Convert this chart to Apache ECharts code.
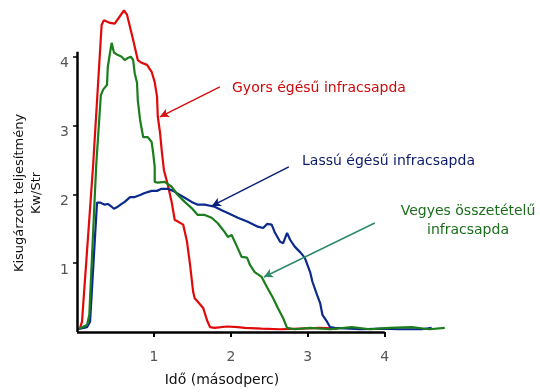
<!DOCTYPE html>
<html>
<head>
<meta charset="utf-8">
<script src="https://cdn.jsdelivr.net/npm/echarts@6/dist/echarts.min.js"></script>
<style>html,body{margin:0;padding:0;background:#fff}#c{width:540px;height:392px}</style>
</head>
<body>
<div id="c"></div>
<script>
// ---- data (time in seconds, radiated power Kw/Str) ----
const gyorsX = [0.04,0.065,0.09,0.21,0.32,0.35,0.43,0.49,0.61,0.65,0.73,0.79,0.84,0.91,0.97,1.01,1.04,1.05,1.08,1.10,1.13,1.18,1.23,1.27,1.38,1.43,1.47,1.51,1.53,1.57,1.64,1.69,1.73,1.79,1.95,2.09,2.18,2.40,2.64,2.90,3.16,3.39];
const gyorsY = [0.06,0.15,0.17,2.43,4.46,4.53,4.49,4.48,4.67,4.61,4.24,3.95,3.91,3.88,3.78,3.63,3.42,3.13,2.89,2.65,2.35,2.14,1.89,1.63,1.56,1.31,0.97,0.58,0.49,0.44,0.35,0.17,0.07,0.06,0.08,0.07,0.06,0.05,0.04,0.05,0.06,0.05];

const lassuX = [0.01,0.13,0.17,0.26,0.30,0.36,0.40,0.45,0.48,0.53,0.58,0.62,0.69,0.75,0.82,0.88,0.97,1.04,1.10,1.18,1.25,1.31,1.40,1.49,1.57,1.66,1.79,1.88,1.96,2.09,2.22,2.35,2.42,2.47,2.53,2.57,2.64,2.68,2.73,2.77,2.83,2.90,2.96,3.03,3.06,3.12,3.16,3.19,3.25,3.29,3.35,3.68,3.95,4.19,4.48,4.61];
const lassuY = [0.04,0.07,0.15,1.88,1.88,1.85,1.86,1.82,1.79,1.82,1.86,1.89,1.96,1.96,1.99,2.02,2.05,2.05,2.08,2.08,2.05,2.01,1.95,1.89,1.85,1.85,1.82,1.77,1.73,1.66,1.60,1.53,1.51,1.57,1.56,1.45,1.31,1.29,1.44,1.34,1.24,1.16,1.08,0.87,0.73,0.54,0.42,0.25,0.15,0.07,0.06,0.04,0.05,0.04,0.04,0.06];

const vegyesX = [0.01,0.13,0.16,0.25,0.31,0.34,0.39,0.40,0.43,0.45,0.48,0.52,0.58,0.62,0.66,0.70,0.73,0.75,0.78,0.79,0.82,0.86,0.88,0.92,0.97,0.99,1.01,1.01,1.05,1.14,1.23,1.31,1.40,1.49,1.57,1.66,1.75,1.83,1.92,1.96,2.01,2.08,2.14,2.21,2.25,2.31,2.40,2.47,2.55,2.61,2.68,2.73,2.83,3.03,3.29,3.57,3.81,4.06,4.35,4.58,4.78];
const vegyesY = [0.04,0.10,0.25,2.43,3.44,3.52,3.59,3.85,4.06,4.20,4.06,4.03,4.00,3.95,3.98,4.00,3.95,3.76,3.62,3.37,3.08,2.83,2.82,2.83,2.76,2.60,2.40,2.18,2.17,2.18,2.11,1.99,1.89,1.80,1.70,1.70,1.66,1.58,1.45,1.38,1.41,1.24,1.09,1.08,0.97,0.87,0.80,0.65,0.49,0.35,0.20,0.06,0.04,0.06,0.04,0.07,0.04,0.06,0.07,0.04,0.06];

const tickValues = [1, 2, 3, 4];
const axisEnds = { x: 4, y: 4.07 };

// annotation arrows [start, end] in data coordinates
const arrowGyors  = [[1.857, 3.56], [1.078, 3.125]];
const arrowLassu  = [[2.753, 2.398], [1.753, 1.831]];
const arrowVegyes = [[3.870, 1.584], [2.429, 0.799]];

const labels = {
  gyors: 'Gyors égésű infracsapda',
  lassu: 'Lassú égésű infracsapda',
  vegyes: 'Vegyes összetételű\ninfracsapda',
  xTitle: 'Idő (másodperc)',
  yTitle: 'Kisugárzott teljesítmény\nKw/Str'
};

const zip = (xs, ys) => xs.map((x, i) => [x, ys[i]]);
const FONT = 'DejaVu Sans';
const RED = '#e00a0a', BLUE = '#0b2a8c', GREEN = '#1b7d1b';

const chart = echarts.init(document.getElementById('c'), null, { renderer: 'canvas' });

function arrow(seg, color) {
  return [
    { coord: seg[0], symbol: 'none', lineStyle: { color, width: 1.5, type: 'solid' } },
    { coord: seg[1], symbol: 'arrow', symbolSize: [7, 9] }
  ];
}

chart.setOption({
  animation: false,
  backgroundColor: '#fff',
  grid: { left: 77, right: 86, top: 5, bottom: 60 },
  xAxis: {
    type: 'value', min: 0, max: 4.9,
    axisLine: { show: false },
    splitLine: { show: false },
    axisTick: { show: true, customValues: tickValues, length: 5, lineStyle: { color: '#000', width: 2 } },
    axisLabel: { customValues: tickValues, margin: 18, color: '#555', fontFamily: FONT, fontSize: 14 }
  },
  yAxis: {
    type: 'value', min: 0, max: 4.75,
    axisLine: { show: false },
    splitLine: { show: false },
    axisTick: { show: true, customValues: tickValues, length: 4, lineStyle: { color: '#000', width: 1.5 } },
    axisLabel: { customValues: tickValues, margin: 8, verticalAlign: 'top', color: '#555', fontFamily: FONT, fontSize: 14 }
  },
  series: [
    {
      name: 'gyors', type: 'line', data: zip(gyorsX, gyorsY), showSymbol: false,
      lineStyle: { color: RED, width: 2.2 }, z: 2,
      markLine: {
        silent: true, animation: false, label: { show: false }, symbol: ['none', 'none'],
        data: [
          [{ coord: [0, 0], lineStyle: { color: '#000', width: 2.5, type: 'solid' } }, { coord: [0, axisEnds.y] }],
          [{ coord: [0, 0], lineStyle: { color: '#000', width: 2.5, type: 'solid' } }, { coord: [axisEnds.x, 0] }],
          arrow(arrowGyors, '#d81010'),
          arrow(arrowLassu, '#0b1f78'),
          arrow(arrowVegyes, '#2e8a6a')
        ]
      }
    },
    { name: 'lassu', type: 'line', data: zip(lassuX, lassuY), showSymbol: false, lineStyle: { color: BLUE, width: 2.2 }, z: 3 },
    { name: 'vegyes', type: 'line', data: zip(vegyesX, vegyesY), showSymbol: false, lineStyle: { color: GREEN, width: 2.2 }, z: 4 }
  ],
  graphic: [
    { type: 'text', x: 232, y: 88, style: { text: labels.gyors, fill: '#cc0a0a', font: `14px "${FONT}"`, verticalAlign: 'middle' } },
    { type: 'text', x: 302, y: 161, style: { text: labels.lassu, fill: '#0b1a6a', font: `14px "${FONT}"`, verticalAlign: 'middle' } },
    { type: 'text', x: 468, y: 221, style: { text: labels.vegyes, fill: '#1b6e1b', font: `14px "${FONT}"`, align: 'center', verticalAlign: 'middle', lineHeight: 19 } },
    { type: 'text', x: 222, y: 380, style: { text: labels.xTitle, fill: '#111', font: `14px "${FONT}"`, align: 'center', verticalAlign: 'middle' } },
    { type: 'text', x: 28, y: 193, rotation: Math.PI / 2, style: { text: labels.yTitle, fill: '#111', font: `13px "${FONT}"`, align: 'center', verticalAlign: 'middle', lineHeight: 17 } }
  ]
});
</script>
</body>
</html>
